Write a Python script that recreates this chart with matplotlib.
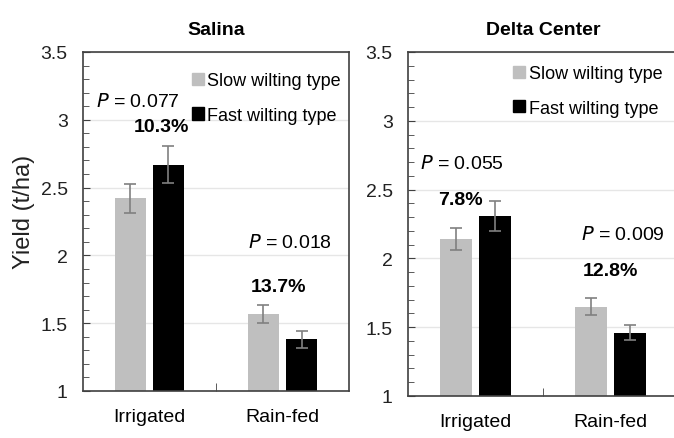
import matplotlib
matplotlib.use('Agg')
import matplotlib.pyplot as plt
from matplotlib.ticker import MultipleLocator, FuncFormatter
from matplotlib.patches import Patch
import numpy as np

plt.rcParams['font.family'] = ['Liberation Sans', 'DejaVu Sans']

categories = ['Irrigated', 'Rain-fed']
salina_slow = [2.42, 1.57]
salina_slow_err = [0.105, 0.065]
salina_fast = [2.67, 1.38]
salina_fast_err = [0.135, 0.06]
delta_slow = [2.14, 1.65]
delta_slow_err = [0.08, 0.065]
delta_fast = [2.31, 1.46]
delta_fast_err = [0.11, 0.055]

salina_notes = [(' = 0.077', -0.09, 3.14), (' = 0.018', 1.06, 2.10)]
salina_pct = [('10.3%', 0.09, 2.95), ('13.7%', 0.97, 1.77)]
delta_notes = [(' = 0.055', -0.10, 2.69), (' = 0.009', 1.09, 2.18)]
delta_pct = [('7.8%', -0.11, 2.43), ('12.8%', 1.00, 1.91)]

slow_color = '#bfbfbf'
fast_color = '#000000'
err_color = '#808080'
fs = 14
fs_leg = 13

fig = plt.figure(figsize=(6.74, 4.39), dpi=100)
ax1 = fig.add_axes([0.1231, 0.1071, 0.3947, 0.7722])
ax2 = fig.add_axes([0.6053, 0.0957, 0.4006, 0.7836])


def draw_panel(ax, title, slow, slow_err, fast, fast_err, notes, pcts, leg_anchor):
    x = np.arange(len(categories))
    w = 0.235
    ax.yaxis.grid(True, color='#e6e6e6', linewidth=1.0, zorder=0)
    ax.bar(x - 0.143, slow, w, color=slow_color, zorder=2)
    ax.bar(x + 0.143, fast, w, color=fast_color, zorder=2)
    ax.errorbar(x - 0.143, slow, yerr=slow_err, fmt='none', ecolor=err_color,
                elinewidth=1.2, capsize=4, capthick=1.2, zorder=3)
    ax.errorbar(x + 0.143, fast, yerr=fast_err, fmt='none', ecolor=err_color,
                elinewidth=1.2, capsize=4, capthick=1.2, zorder=3)
    ax.set_xlim(-0.5, 1.5)
    ax.set_ylim(1, 3.5)
    ax.set_xticks(x)
    ax.set_xticklabels(categories, fontsize=fs)
    ax.set_xticks([0.5], minor=True)
    ax.tick_params(axis='x', which='major', length=0, pad=12)
    ax.tick_params(axis='x', which='minor', direction='in', length=6, color='#404040')
    ax.yaxis.set_major_locator(MultipleLocator(0.5))
    ax.yaxis.set_minor_locator(MultipleLocator(0.1))
    ax.yaxis.set_major_formatter(FuncFormatter(lambda v, p: '%g' % v))
    ax.tick_params(axis='y', which='major', direction='in', length=5, pad=11,
                   labelsize=fs, color='#404040', labelcolor='#222222')
    ax.tick_params(axis='y', which='minor', direction='in', length=4, color='#404040')
    for s in ax.spines.values():
        s.set_color('#404040')
        s.set_linewidth(1.2)
    ax.set_title(title, fontsize=fs, fontweight='bold', pad=13)
    for rest, tx, ty in notes:
        ax.text(tx, ty, r'$\mathit{P}$' + rest, fontsize=fs, ha='center', va='center', zorder=4)
    for t, tx, ty in pcts:
        ax.text(tx, ty, t, fontsize=fs, fontweight='bold', ha='center', va='center', zorder=4)
    handles = [Patch(color=slow_color), Patch(color=fast_color)]
    ax.legend(handles, ['Slow wilting type', 'Fast wilting type'], loc='upper left',
              bbox_to_anchor=leg_anchor, frameon=False, fontsize=fs_leg,
              handlelength=0.65, handleheight=0.65, handletextpad=0.2,
              labelspacing=0.97, borderpad=0, borderaxespad=0)


draw_panel(ax1, 'Salina', salina_slow, salina_slow_err, salina_fast, salina_fast_err,
           salina_notes, salina_pct, (0.41, 0.94))
draw_panel(ax2, 'Delta Center', delta_slow, delta_slow_err, delta_fast, delta_fast_err,
           delta_notes, delta_pct, (0.39, 0.962))

fig.text(24 / 674, 1 - 212 / 439, 'Yield (t/ha)', rotation=90, fontsize=17,
         ha='center', va='center', color='#222222')

fig.savefig('out.png', dpi=100, facecolor='white')
